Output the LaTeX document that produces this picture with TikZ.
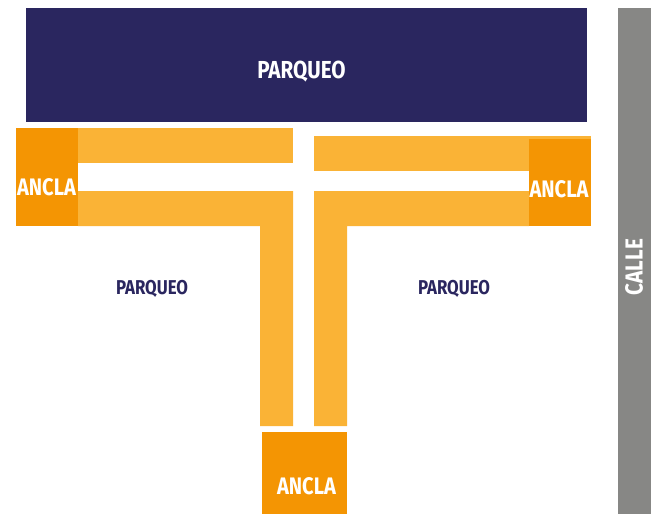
\documentclass[tikz,border=0pt]{standalone}
\usepackage{xcolor}
\usepackage{fontspec}
\setmainfont{Fira Sans}[FakeStretch=0.84]
\definecolor{navy}{HTML}{2A265F}
\definecolor{pasillo}{HTML}{FAB336}
\definecolor{ancla}{HTML}{F49503}
\definecolor{calle}{HTML}{878785}
\tikzset{
    pasillofill/.style = {fill=pasillo,draw=none},
    anclafill/.style = {fill=ancla,draw=none},
    biglabel/.style = {text=white,font=\bfseries\fontsize{14}{14}\selectfont,inner sep=0pt},
    anclalabel/.style = {text=white,font=\bfseries\fontsize{13.6}{13.6}\selectfont,inner sep=0pt},
    smalllabel/.style = {text=navy,font=\bfseries\fontsize{11.4}{11.4}\selectfont,inner sep=0pt},
}
\begin{document}
\begin{tikzpicture}[x=0.02cm,y=-0.02cm]
\useasboundingbox (0,0) rectangle (655,514);
\fill[navy] (26,8) rectangle (587,122);
\node[biglabel] (P1) at (301.5,72){PARQUEO};

\fill[calle] (618,8) rectangle (651,514);
\node[biglabel,rotate=90] (CL) at (634,267){CALLE};

\path[pasillofill] (78,128) rectangle (293,163);
\path[pasillofill] (78,191) -- (293,191) -- (293,426) -- (260,426) -- (260,226) -- (78,226) -- cycle;
\path[pasillofill] (314,136) rectangle (591,171);
\path[pasillofill] (314,191) -- (529,191) -- (529,226) -- (347,226) -- (347,426) -- (314,426) -- cycle;

\path[anclafill] (16,128) rectangle (78,226);
\node[anclalabel] (A1) at (46.5,187){ANCLA};

\path[anclafill] (529,139) rectangle (591,226);
\node[anclalabel] (A2) at (559,189){ANCLA};

\path[anclafill] (262,432) rectangle (347,514);
\node[anclalabel] (A3) at (306.5,486.5){ANCLA};

\node[smalllabel] (P2) at (152,288.5){PARQUEO};
\node[smalllabel] (P3) at (454,288.5){PARQUEO};
\end{tikzpicture}
\end{document}
